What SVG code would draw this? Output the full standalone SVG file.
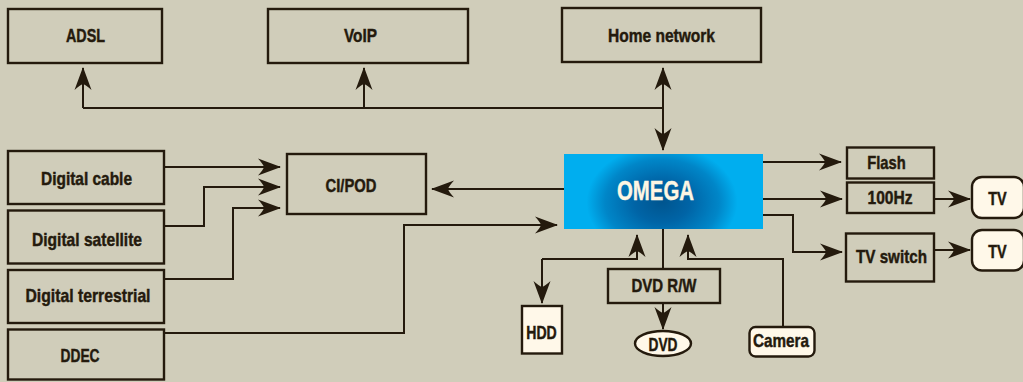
<svg xmlns="http://www.w3.org/2000/svg" width="1023" height="382" viewBox="0 0 1023 382">
<defs>
<style>
.box{fill:none;stroke:#241a0d;stroke-width:2.4}
.cream{fill:#fff8e9;stroke:#241a0d;stroke-width:2.4}
.t{font-family:"Liberation Sans",Arial,sans-serif;font-weight:bold;font-size:18.5px;fill:#241a0d;stroke:#241a0d;stroke-width:0.45;text-anchor:middle}
.w{font-family:"Liberation Sans",Arial,sans-serif;font-weight:bold;font-size:27px;fill:#fdf6e3;stroke:#fdf6e3;stroke-width:0.4;text-anchor:middle}
.c{fill:none;stroke:#241a0d;stroke-width:2}
.a{marker-end:url(#arr)}
</style>
<marker id="arr" markerUnits="userSpaceOnUse" viewBox="-24 -10 26 20" refX="0" refY="0" markerWidth="26" markerHeight="20" orient="auto" overflow="visible">
<path d="M1,0 L-22,-8.5 Q-17,-3 -16,0 Q-17,3 -22,8.5 Z" fill="#241a0d"/>
</marker>
<radialGradient id="omg" gradientUnits="userSpaceOnUse" cx="662" cy="202" r="92" gradientTransform="matrix(1,0,0,0.75,0,50.5)">
<stop offset="0" stop-color="#00558f"/>
<stop offset="0.3" stop-color="#0064a6"/>
<stop offset="0.62" stop-color="#0086c8"/>
<stop offset="0.82" stop-color="#00aeef"/>
<stop offset="1" stop-color="#00aeef"/>
</radialGradient>
</defs>
<rect x="0" y="0" width="1023" height="382" fill="#d0cdba"/>

<g id="connectors">
<path class="c" d="M83,108 H663"/>
<path class="c a" d="M83,108 V68"/>
<path class="c a" d="M364,108 V68"/>
<path class="c a" d="M663,108 V68"/>
<path class="c a" d="M663,108 V150"/>
<path class="c a" d="M164,167 H280"/>
<path class="c a" d="M164,226 H204 V187 H280"/>
<path class="c a" d="M164,279 H233 V208 H280"/>
<path class="c a" d="M165,333 H404 V225 H557"/>
<path class="c a" d="M564,189 H432"/>
<path class="c a" d="M542,259 H637 V235"/>
<path class="c a" d="M542,259 V303"/>
<path class="c" d="M663,229 V269"/>
<path class="c a" d="M663,303 V329"/>
<path class="c a" d="M783,327 V259 H688 V235"/>
<path class="c a" d="M763,162 H841"/>
<path class="c a" d="M763,199 H842"/>
<path class="c a" d="M763,215 H793 V252 H842"/>
<path class="c a" d="M934,199 H970"/>
<path class="c a" d="M934,250 H970"/>
</g>

<g id="adsl"><rect class="box" x="8" y="9" width="154" height="54"/><text class="t" x="85.5" y="42" textLength="39" lengthAdjust="spacingAndGlyphs">ADSL</text></g>
<g id="voip"><rect class="box" x="268" y="9" width="200" height="54"/><text class="t" x="360.5" y="42" textLength="33" lengthAdjust="spacingAndGlyphs">VoIP</text></g>
<g id="home-network"><rect class="box" x="562" y="8" width="199" height="54"/><text class="t" x="661.5" y="42" textLength="107" lengthAdjust="spacingAndGlyphs">Home network</text></g>

<g id="digital-cable"><rect class="box" x="8" y="151" width="156" height="53"/><text class="t" x="86.5" y="185" textLength="91" lengthAdjust="spacingAndGlyphs">Digital cable</text></g>
<g id="digital-satellite"><rect class="box" x="8" y="210.5" width="156" height="53"/><text class="t" x="87" y="245.5" textLength="110" lengthAdjust="spacingAndGlyphs">Digital satellite</text></g>
<g id="digital-terrestrial"><rect class="box" x="8" y="270" width="156" height="53"/><text class="t" x="88" y="302" textLength="125" lengthAdjust="spacingAndGlyphs">Digital terrestrial</text></g>
<g id="ddec"><rect class="box" x="8" y="329.5" width="156" height="50"/><text class="t" x="80" y="361.5" textLength="39" lengthAdjust="spacingAndGlyphs">DDEC</text></g>

<g id="ci-pod"><rect class="box" x="287" y="154" width="139" height="60"/><text class="t" x="351" y="192" textLength="51" lengthAdjust="spacingAndGlyphs">CI/POD</text></g>

<g id="omega"><rect x="564" y="154" width="199" height="75" fill="url(#omg)"/><text class="w" x="655.5" y="200" textLength="77" lengthAdjust="spacingAndGlyphs">OMEGA</text></g>

<g id="hdd"><rect class="cream" x="522" y="306" width="40" height="47.5"/><text class="t" x="541.5" y="338.5" textLength="30.5" lengthAdjust="spacingAndGlyphs">HDD</text></g>
<g id="dvd-rw"><rect class="box" x="608" y="269" width="112" height="34"/><text class="t" x="664" y="292" textLength="65" lengthAdjust="spacingAndGlyphs">DVD R/W</text></g>
<g id="dvd"><ellipse class="cream" cx="663" cy="343.5" rx="28" ry="12.5"/><text class="t" x="663" y="350.5" textLength="29" lengthAdjust="spacingAndGlyphs">DVD</text></g>
<g id="camera"><rect class="cream" x="749.5" y="327" width="65" height="29.5" rx="6"/><text class="t" x="781" y="347" textLength="56" lengthAdjust="spacingAndGlyphs">Camera</text></g>

<g id="flash"><rect class="box" x="847" y="147.5" width="87" height="31"/><text class="t" x="886.5" y="169" textLength="38.5" lengthAdjust="spacingAndGlyphs">Flash</text></g>
<g id="hz100"><rect class="box" x="847" y="182.5" width="87" height="30.5"/><text class="t" x="890" y="204" textLength="45" lengthAdjust="spacingAndGlyphs">100Hz</text></g>
<g id="tv-switch"><rect class="box" x="846" y="233.5" width="88" height="48"/><text class="t" x="891.5" y="263" textLength="71" lengthAdjust="spacingAndGlyphs">TV switch</text></g>
<g id="tv1"><rect class="cream" x="972" y="177" width="52" height="41" rx="10"/><text class="t" x="997.5" y="205" textLength="18.5" lengthAdjust="spacingAndGlyphs">TV</text></g>
<g id="tv2"><rect class="cream" x="972" y="230" width="52" height="40.5" rx="10"/><text class="t" x="997.5" y="257.5" textLength="18.5" lengthAdjust="spacingAndGlyphs">TV</text></g>
</svg>
